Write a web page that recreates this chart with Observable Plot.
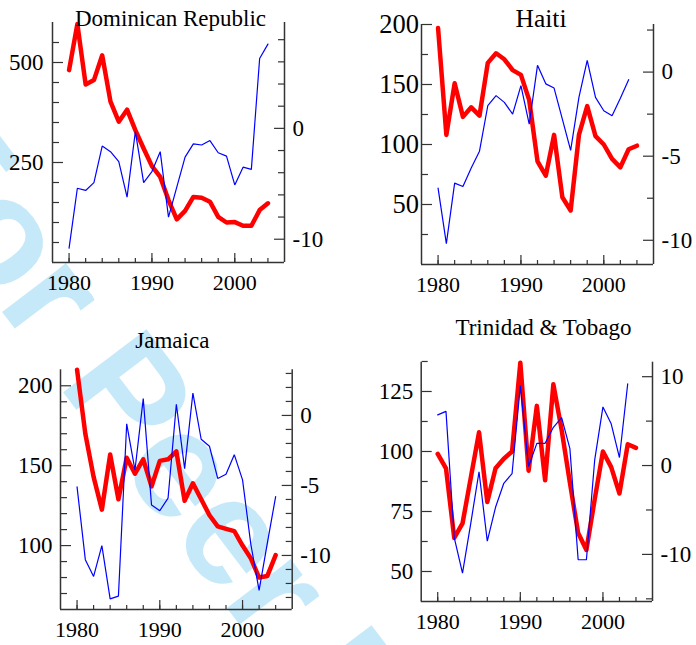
<!DOCTYPE html>
<html>
<head>
<meta charset="utf-8">
<script src="https://cdn.jsdelivr.net/npm/d3@7"></script>
<script src="https://cdn.jsdelivr.net/npm/@observablehq/plot@0.6"></script>
<style>
html, body { margin: 0; padding: 0; background: #fff; }
#root { position: relative; width: 696px; height: 645px; overflow: hidden; font-family: "Liberation Serif", serif; }
.layer { position: absolute; }
.layer svg { position: absolute; left: 0; top: 0; display: block; overflow: visible; max-width: none; }
</style>
</head>
<body>
<div id="root"></div>
<script>
// ---------- data ----------
const years = [1980,1981,1982,1983,1984,1985,1986,1987,1988,1989,1990,1991,1992,1993,1994,1995,1996,1997,1998,1999,2000,2001,2002,2003,2004];
const xDomain = [1978, 2006];
const xMajorTicks = [1980, 1990, 2000];
const xMinorTicks = [1980,1982,1984,1986,1988,1990,1992,1994,1996,1998,2000,2002,2004];

const titles = ["Dominican Republic", "Haiti", "Jamaica", "Trinidad & Tobago"];
const watermark = ["For Peer Review"];

// red (left axis) series
const domRed = [481,596,445,456,518,402,352,382,331,285,241,214,156,108,129,164,162,152,114,100,101,92,92,131,148];
const haiRed = [197,108,151,123,131,124,168,176,171,162,158,137,86,74,108,56,45,108,132,107,100,88,81,96,99];
const jamRed = [210,170,143,122.5,157,129,155,145,154,137,153,154,159,128,139,129,119,112,110.5,109,100,92,80,81,94];
const ttoRed = [99,93,64,70,89,108,79,93,97,100,137,92,119,88,128,109,87,66,59,80,100,93.5,82.5,103,101.5];

// blue (right axis) series
const domBlue = [-10.8,-5.4,-5.6,-4.9,-1.6,-2.1,-3.0,-6.2,-0.3,-4.9,-3.9,-2.1,-8.0,-5.3,-2.6,-1.4,-1.5,-1.1,-2.2,-2.5,-5.1,-3.5,-3.7,6.3,7.6];
const haiBlue = [-6.9,-10.2,-6.6,-6.8,-5.7,-4.7,-2.0,-1.4,-1.8,-2.5,-0.8,-3.1,0.4,-0.7,-0.95,-2.8,-4.65,-1.5,0.7,-1.5,-2.3,-2.6,-1.55,-0.45,null];
const jamBlue = [-5.1,-10.3,-11.5,-9.3,-13.1,-12.9,-0.6,-3.9,1.2,-6.4,-6.8,-5.9,0.8,-3.8,1.6,-1.7,-2.2,-4.5,-4.2,-2.8,-4.6,-9.2,-12.5,-9.1,-5.8];
const ttoBlue = [5.7,6.1,-8.1,-12.1,-6.5,-0.7,-8.5,-4.7,-2.0,-0.9,9.0,-0.1,2.5,2.5,4.3,5.4,1.9,-10.6,-10.6,0.6,6.6,4.7,0.9,9.2,null];

// axis domains
const domLeftDomain = [0, 600],    domRightDomain = [-12.1, 9.55];
const haiLeftDomain = [0, 200],    haiRightDomain = [-11.44, 2.83];
const jamLeftDomain = [60, 210],   jamRightDomain = [-13.86, 3.26];
const ttoLeftDomain = [37.5, 137.2], ttoRightDomain = [-15.3, 11.63];

// tick values
const domLeftMajor = [250, 500], domLeftMinor = [50,100,150,200,300,350,400,450,550];
const domRightMajor = [-10, 0], domRightMinor = [-8,-6,-4,-2,2,4,6,8];
const haiLeftMajor = [50,100,150,200], haiLeftMinor = [25,75,125,175];
const haiRightMajor = [-10,-5,0], haiRightMinor = [-7.5,-2.5,2.5];
const jamLeftMajor = [100,150,200], jamLeftMinor = [70,80,90,110,120,130,140,160,170,180,190];
const jamRightMajor = [-10,-5,0], jamRightMinor = [-13,-12,-11,-9,-8,-7,-6,-4,-3,-2,-1,1,2,3];
const ttoLeftMajor = [50,75,100,125], ttoLeftMinor = [62.5,87.5,112.5,137.5];
const ttoRightMajor = [-10,0,10], ttoRightMinor = [-15,-5,5];

// ---------- layout / style ----------
const RED = "#ff0000", BLUE = "#0000ff", AXIS = "#333333";
const FONT = "Liberation Serif";
const X_FS = 22, Y_FS = 23;

const panels = [
  {title: titles[0], red: domRed, blue: domBlue, leftDomain: domLeftDomain, rightDomain: domRightDomain,
   leftMajor: domLeftMajor, leftMinor: domLeftMinor, rightMajor: domRightMajor, rightMinor: domRightMinor,
   pos: [0, 0, 348, 322], margin: [22, 64, 60, 52], titleDx: 2, titleDy: 3.5, titleFs: 23, leftFs: Y_FS, leftPad: 9},
  {title: titles[1], red: haiRed, blue: haiBlue, leftDomain: haiLeftDomain, rightDomain: haiRightDomain,
   leftMajor: haiLeftMajor, leftMinor: haiLeftMinor, rightMajor: haiRightMajor, rightMinor: haiRightMinor,
   pos: [348, 0, 348, 322], margin: [24, 43, 58, 73], titleDx: 3.5, titleDy: 2, titleFs: 25.5, leftFs: 26.5, leftPad: 2.5},
  {title: titles[2], red: jamRed, blue: jamBlue, leftDomain: jamLeftDomain, rightDomain: jamRightDomain,
   leftMajor: jamLeftMajor, leftMinor: jamLeftMinor, rightMajor: jamRightMajor, rightMinor: jamRightMinor,
   pos: [0, 322, 348, 323], margin: [47.3, 56.3, 36, 60], titleDx: -4, titleDy: -21.6, titleFs: 23, leftFs: Y_FS, leftPad: 8},
  {title: titles[3], red: ttoRed, blue: ttoBlue, leftDomain: ttoLeftDomain, rightDomain: ttoRightDomain,
   leftMajor: ttoLeftMajor, leftMinor: ttoLeftMinor, rightMajor: ttoRightMajor, rightMinor: ttoRightMinor,
   pos: [348, 322, 348, 323], margin: [39.7, 44, 44, 72.7], titleDx: 6.6, titleDy: -27.7, titleFs: 23, leftFs: Y_FS, leftPad: 8}
];

const root = document.getElementById("root");
const svgStyle = {fontFamily: FONT, fontSize: Y_FS + "px", background: "transparent", overflow: "visible", color: "#000"};
const fmtSigned = d => (d < 0 ? "-" + (-d) : String(d));
const blank = () => "";

// ---------- watermark (behind) ----------
{
  const wm = document.createElement("div");
  wm.className = "layer";
  wm.style.cssText = "left:0;top:0;width:696px;height:645px;";
  wm.appendChild(Plot.plot({
    width: 696, height: 645, margin: 0,
    style: {background: "transparent", overflow: "visible"},
    marks: [
      Plot.text(watermark, {frameAnchor: "top-left", dx: -117, dy: 155, rotate: 52.8,
        fontSize: 152, fontFamily: "Liberation Sans", fontWeight: "bold", textAnchor: "start", lineAnchor: "bottom",
        fill: "#c6e9f9"})
    ]
  }));
  root.appendChild(wm);
}

// ---------- panels ----------
for (const p of panels) {
  const [left, top, w, h] = p.pos;
  const [mt, mr, mb, ml] = p.margin;
  const rows = years.map((year, i) => ({year, red: p.red[i], blue: p.blue[i]}));
  const div = document.createElement("div");
  div.className = "layer";
  div.style.cssText = `left:${left}px;top:${top}px;width:${w}px;height:${h}px;`;

  const common = {width: w, height: h, marginTop: mt, marginRight: mr, marginBottom: mb, marginLeft: ml, style: svgStyle};

  const leftPlot = Plot.plot({
    ...common,
    x: {domain: xDomain},
    y: {domain: p.leftDomain},
    marks: [
      Plot.ruleX(xDomain, {stroke: AXIS, strokeWidth: 1.5}),
      Plot.ruleY([p.leftDomain[0]], {stroke: AXIS, strokeWidth: 1.5}),
      Plot.axisX({anchor: "top", frameAnchor: "bottom", ticks: xMinorTicks, tickSize: 5, tickFormat: blank, label: null, stroke: AXIS, strokeWidth: 1.2}),
      Plot.axisX({anchor: "top", frameAnchor: "bottom", ticks: xMajorTicks, tickSize: 10, tickFormat: blank, label: null, stroke: AXIS, strokeWidth: 1.2}),
      Plot.axisX({anchor: "bottom", ticks: xMajorTicks, tickSize: 0, tickPadding: 12, tickFormat: d => String(d), fontSize: X_FS, label: null, fill: "#000"}),
      Plot.axisY({anchor: "right", frameAnchor: "left", ticks: p.leftMinor, tickSize: 6, tickFormat: blank, label: null, stroke: AXIS, strokeWidth: 1.2}),
      Plot.axisY({anchor: "right", frameAnchor: "left", ticks: p.leftMajor, tickSize: 10, tickFormat: blank, label: null, stroke: AXIS, strokeWidth: 1.2}),
      Plot.axisY({anchor: "left", ticks: p.leftMajor, tickSize: 0, tickPadding: p.leftPad, tickFormat: fmtSigned, fontSize: p.leftFs, label: null, fill: "#000"}),
      Plot.lineY(rows, {x: "year", y: "red", stroke: RED, strokeWidth: 4.5, strokeLinejoin: "round", strokeLinecap: "round"}),
      Plot.text([p.title], {frameAnchor: "top", dx: p.titleDx, dy: p.titleDy, fontSize: p.titleFs, fontFamily: FONT, lineAnchor: "bottom", textAnchor: "middle", fill: "#000"})
    ]
  });

  const rightPlot = Plot.plot({
    ...common,
    x: {domain: xDomain, axis: null},
    y: {domain: p.rightDomain},
    marks: [
      Plot.axisY({anchor: "left", frameAnchor: "right", ticks: p.rightMinor, tickSize: 6, tickFormat: blank, label: null, stroke: AXIS, strokeWidth: 1.2}),
      Plot.axisY({anchor: "left", frameAnchor: "right", ticks: p.rightMajor, tickSize: 10, tickFormat: blank, label: null, stroke: AXIS, strokeWidth: 1.2}),
      Plot.axisY({anchor: "right", ticks: p.rightMajor, tickSize: 0, tickPadding: 8, tickFormat: fmtSigned, fontSize: Y_FS, label: null, fill: "#000"}),
      Plot.lineY(rows, {x: "year", y: "blue", stroke: BLUE, strokeWidth: 1.2, strokeLinejoin: "miter"})
    ]
  });

  div.appendChild(leftPlot);
  div.appendChild(rightPlot);
  root.appendChild(div);
}
</script>
</body>
</html>
